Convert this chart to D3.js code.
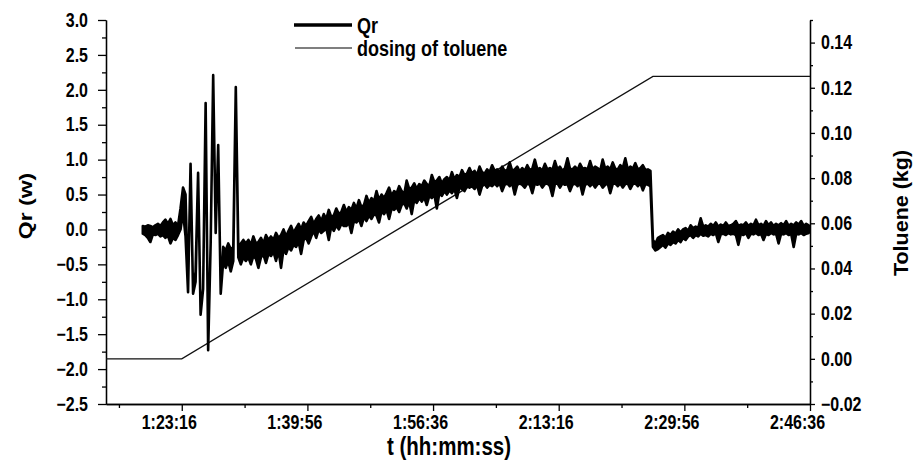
<!DOCTYPE html>
<html>
<head>
<meta charset="utf-8">
<script src="https://cdn.jsdelivr.net/npm/d3@7"></script>
<style>
body { margin: 0; background: #fff; }
svg text { font-family: "Liberation Sans", Arial, sans-serif; font-weight: bold; fill: #000; }
</style>
</head>
<body>
<svg id="chart" width="913" height="465"></svg>
<script>
// Qr band (upper / lower edge of the trace), one bin every 20 s from 1:18:06
const qrStart = 4686;
const qrStep = 20;
const qrHigh = [
    0.05, 0.04, 0.06, 0.05, 0.03, 0.06, 0.08, 0.05, 0.1, 0.14, 0.08, 0.15, 0.06, 0.1, 0.05,
    0.3, 0.6, 0.5, -0.9, 0.94, -0.92, -0.6, 0.81, -1.22, -0.85, 1.81, -1.73, -0.2, 2.21, -0.05, 1.21, -0.92,
    -0.25, -0.3, -0.2, -0.28, -0.25, 2.04, -0.25, -0.2, -0.15,
    -0.2, -0.15, -0.22, -0.1, -0.2, -0.18, -0.12, -0.2, -0.08, -0.15,
    -0.1, -0.15, -0.05, -0.12, -0.08, 0.0, -0.1, -0.02, 0.05, -0.05,
    0.02, 0.08, 0.0, 0.1, 0.05, 0.12, 0.18, 0.08, 0.15, 0.2,
    0.12, 0.22, 0.15, 0.28, 0.18, 0.2, 0.3, 0.22, 0.25, 0.35,
    0.25, 0.32, 0.28, 0.38, 0.3, 0.42, 0.32, 0.35, 0.48, 0.38,
    0.45, 0.4, 0.55, 0.42, 0.5, 0.45, 0.52, 0.6, 0.48, 0.55,
    0.52, 0.62, 0.55, 0.5, 0.7, 0.58, 0.6, 0.66, 0.58, 0.65,
    0.62, 0.7, 0.65, 0.62, 0.78, 0.68, 0.7, 0.75, 0.66, 0.72,
    0.75, 0.7, 0.82, 0.72, 0.78, 0.75, 0.85, 0.78, 0.8, 0.88,
    0.8, 0.84, 0.78, 0.9, 0.82, 0.8, 0.86, 0.82, 0.92, 0.84,
    0.86, 0.82, 0.9, 0.84, 0.85, 0.96, 0.84, 0.86, 0.9, 0.83,
    0.88, 0.84, 0.92, 0.85, 0.87, 1.0, 0.86, 0.88, 0.84, 0.94,
    0.86, 0.88, 0.85, 0.98, 0.86, 0.9, 0.84, 0.88, 1.02, 0.87,
    0.86, 0.9, 0.85, 0.94, 0.87, 0.88, 0.86, 0.98, 0.86, 0.9,
    0.88, 0.84, 1.0, 0.87, 0.9, 0.86, 0.96, 0.87, 0.86, 0.92,
    0.88, 1.02, 0.86, 0.9, 0.87, 0.95, 0.86, 0.88, 0.92, 0.85,
    0.86, 0.84,
    -0.15, -0.2,
    -0.12, -0.1, -0.08, -0.12, -0.05, -0.08, -0.03, -0.06, 0.0, -0.04,
    0.0, 0.02, -0.02, 0.06, 0.02, 0.04, 0.02, 0.16, 0.04, 0.06,
    0.04, 0.08, 0.05, 0.1, 0.04, 0.07, 0.05, 0.1, 0.05, 0.06,
    0.08, 0.12, 0.05, 0.07, 0.06, 0.1, 0.05, 0.08, 0.06, 0.14,
    0.06, 0.08, 0.05, 0.12, 0.06, 0.1, 0.05, 0.08, 0.06, 0.09,
    0.06, 0.12, 0.05, 0.08, 0.06, 0.1, 0.07, 0.12, 0.05, 0.08, 0.06
];
const qrLow = [
    -0.06, -0.08, -0.12, -0.18, -0.07, -0.08, -0.06, -0.1, -0.08, -0.12, -0.09, -0.2, -0.12, -0.15, -0.08,
    0.0, 0.25, -0.1, -0.9, 0.94, -0.92, -0.75, 0.81, -1.22, -0.85, 1.81, -1.73, -0.2, 2.21, -0.05, 1.21, -0.92,
    -0.45, -0.55, -0.45, -0.6, -0.45, 2.04, -0.4, -0.5, -0.4,
    -0.45, -0.4, -0.5, -0.38, -0.42, -0.55, -0.4, -0.36, -0.48, -0.35,
    -0.38, -0.32, -0.45, -0.3, -0.55, -0.28, -0.35, -0.25, -0.3, -0.22,
    -0.25, -0.18, -0.35, -0.15, -0.12, -0.2, -0.1, -0.02, -0.12, 0.0,
    -0.05, -0.02, 0.02, -0.15, 0.05, -0.02, 0.06, 0.0, 0.08, 0.05,
    0.05, 0.1, -0.05, 0.12, 0.1, 0.15, 0.05, 0.18, 0.12, 0.2,
    0.15, 0.22, 0.2, 0.1, 0.26, 0.22, 0.28, 0.15, 0.3, 0.28,
    0.32, 0.25, 0.35, 0.38, 0.3, 0.4, 0.22, 0.42, 0.38, 0.45,
    0.4, 0.46, 0.35, 0.48, 0.45, 0.5, 0.3, 0.52, 0.48, 0.55,
    0.5, 0.56, 0.52, 0.58, 0.45, 0.6, 0.58, 0.55, 0.62, 0.6,
    0.62, 0.58, 0.64, 0.5, 0.62, 0.65, 0.6, 0.64, 0.62, 0.66,
    0.62, 0.66, 0.55, 0.64, 0.66, 0.62, 0.66, 0.5, 0.64, 0.66,
    0.64, 0.6, 0.66, 0.64, 0.52, 0.66, 0.64, 0.66, 0.6, 0.65,
    0.66, 0.62, 0.48, 0.65, 0.66, 0.6, 0.66, 0.64, 0.65, 0.55,
    0.64, 0.66, 0.62, 0.66, 0.5, 0.64, 0.66, 0.62, 0.66, 0.6,
    0.65, 0.66, 0.6, 0.64, 0.66, 0.52, 0.65, 0.66, 0.62, 0.66,
    0.6, 0.65, 0.66, 0.58, 0.65, 0.66, 0.62, 0.66, 0.56, 0.65,
    0.64, 0.62,
    -0.25, -0.3,
    -0.28, -0.25, -0.22, -0.26, -0.2, -0.22, -0.18, -0.2, -0.15, -0.18,
    -0.12, -0.15, -0.1, -0.08, -0.12, -0.08, -0.1, -0.06, -0.09, -0.08,
    -0.1, -0.06, -0.08, -0.05, -0.18, -0.07, -0.06, -0.08, -0.05, -0.07,
    -0.06, -0.08, -0.22, -0.06, -0.08, -0.05, -0.12, -0.06, -0.07, -0.05,
    -0.08, -0.06, -0.15, -0.06, -0.08, -0.05, -0.07, -0.06, -0.2, -0.06,
    -0.07, -0.05, -0.08, -0.06, -0.25, -0.06, -0.07, -0.05, -0.08, -0.06, -0.05
];

// toluene dosing (kg) against time (s)
const tolTime = [4393, 4996, 8746, 9996];
const tolMass = [0, 0, 0.125, 0.125];

const timeTicks = [4996, 5996, 6996, 7996, 8996, 9996];
const timeMinor = [4496, 5496, 6496, 7496, 8496, 9496];
const qrTicks = [-2.5, -2.0, -1.5, -1.0, -0.5, 0.0, 0.5, 1.0, 1.5, 2.0, 2.5, 3.0];
const qrMinor = [-2.25, -1.75, -1.25, -0.75, -0.25, 0.25, 0.75, 1.25, 1.75, 2.25, 2.75];
const tolTicks = [-0.02, 0.0, 0.02, 0.04, 0.06, 0.08, 0.10, 0.12, 0.14];
const tolMinor = [-0.01, 0.01, 0.03, 0.05, 0.07, 0.09, 0.11, 0.13, 0.15];

const svg = d3.select("#chart");
const plotL = 106, plotR = 810, plotT = 20, plotB = 404;
const squeeze = 0.82;   // the original lettering is narrow

var x = d3.scaleLinear().domain([4393, 9996]).range([plotL, plotR]);
var yQr = d3.scaleLinear().domain([-2.5, 3.0]).range([plotB, plotT]);
var yTol = d3.scaleLinear().domain([-0.02, 0.15]).range([plotB, plotT]);

function fmtTime(s) {
    var h = Math.floor(s / 3600), m = Math.floor((s % 3600) / 60), sec = s % 60;
    return h + ":" + String(m).padStart(2, "0") + ":" + String(sec).padStart(2, "0");
}

// axes
var gx = svg.append("g")
    .attr("transform", `translate(0, ${plotB})`)
    .call(d3.axisBottom(x).tickValues(timeTicks).tickFormat(fmtTime).tickSize(7).tickPadding(4).tickSizeOuter(0));
gx.selectAll("text")
    .attr("dx", -13 / squeeze)
    .attr("transform", `scale(${squeeze},1)`)
    .style("font-size", "19.5px");
svg.append("g")
    .attr("transform", `translate(0, ${plotB})`)
    .call(d3.axisBottom(x).tickValues(timeMinor).tickFormat("").tickSize(4).tickSizeOuter(0));

var gl = svg.append("g")
    .attr("transform", `translate(${plotL}, 0)`)
    .call(d3.axisLeft(yQr).tickValues(qrTicks).tickFormat(d3.format(".1f")).tickSize(8).tickSizeOuter(0));
gl.selectAll("text")
    .attr("x", -18 / squeeze)
    .attr("transform", `scale(${squeeze},1)`)
    .style("font-size", "19.5px");
svg.append("g")
    .attr("transform", `translate(${plotL}, 0)`)
    .call(d3.axisLeft(yQr).tickValues(qrMinor).tickFormat("").tickSize(4).tickSizeOuter(0));

var gr = svg.append("g")
    .attr("transform", `translate(${plotR}, 0)`)
    .call(d3.axisRight(yTol).tickValues(tolTicks).tickFormat(d3.format(".2f")).tickSize(5).tickSizeOuter(0));
gr.selectAll("text")
    .attr("x", 11 / squeeze)
    .attr("transform", `scale(${squeeze},1)`)
    .style("font-size", "19.5px");
svg.append("g")
    .attr("transform", `translate(${plotR}, 0)`)
    .call(d3.axisRight(yTol).tickValues(tolMinor).tickFormat("").tickSize(3).tickSizeOuter(0));

svg.selectAll(".domain, .tick line").attr("stroke", "#000").attr("stroke-width", 1.3);

// axis titles
svg.append("text")
    .attr("transform", `translate(449, 455) scale(${squeeze},1)`)
    .attr("text-anchor", "middle")
    .style("font-size", "25px")
    .text("t (hh:mm:ss)");
svg.append("text")
    .attr("transform", `translate(25, 206) rotate(-90) scale(1,${squeeze})`)
    .attr("text-anchor", "middle")
    .attr("dy", "0.35em")
    .style("font-size", "23px")
    .text("Qr (w)");
svg.append("text")
    .attr("transform", `translate(901, 213) rotate(-90) scale(1,0.9)`)
    .attr("text-anchor", "middle")
    .attr("dy", "0.35em")
    .style("font-size", "21.5px")
    .text("Toluene (kg)");

// toluene line
var tolData = tolTime.map(function(t, i) { return {t: t, v: tolMass[i]}; });
svg.append("path")
    .datum(tolData)
    .attr("fill", "none")
    .attr("stroke", "#111")
    .attr("stroke-width", 1.3)
    .attr("d", d3.line().x(function(d) { return x(d.t); }).y(function(d) { return yTol(d.v); }));

// Qr trace drawn as its band
var qrData = qrHigh.map(function(v, i) { return {t: qrStart + i * qrStep, hi: v, lo: qrLow[i]}; });
svg.append("path")
    .datum(qrData)
    .attr("fill", "#000")
    .attr("stroke", "#000")
    .attr("stroke-width", 2.6)
    .attr("stroke-linejoin", "round")
    .attr("d", d3.area()
        .x(function(d) { return x(d.t); })
        .y0(function(d) { return yQr(d.lo); })
        .y1(function(d) { return yQr(d.hi); }));

// legend
var legend = svg.append("g");
legend.append("line").attr("x1", 294).attr("x2", 352).attr("y1", 25).attr("y2", 25)
    .attr("stroke", "#000").attr("stroke-width", 3.5);
legend.append("text").attr("transform", `translate(357, 25) scale(${squeeze},1)`).attr("dy", "0.35em")
    .style("font-size", "22px").text("Qr");
legend.append("line").attr("x1", 295).attr("x2", 352).attr("y1", 48).attr("y2", 48)
    .attr("stroke", "#555").attr("stroke-width", 1.3);
legend.append("text").attr("transform", `translate(357, 48) scale(${squeeze},1)`).attr("dy", "0.35em")
    .style("font-size", "22px").text("dosing of toluene");
</script>
</body>
</html>
